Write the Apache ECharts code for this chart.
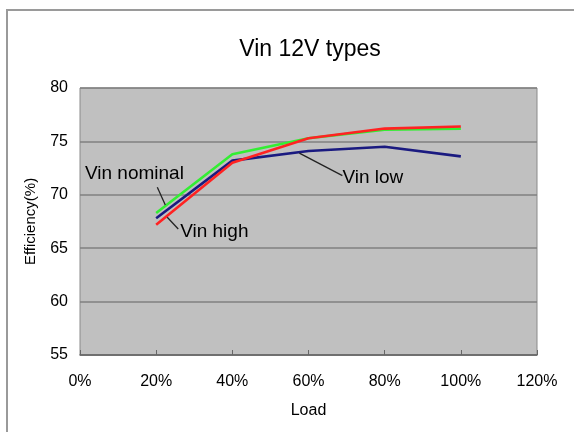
<!DOCTYPE html>
<html>
<head>
<meta charset="utf-8">
<script src="https://cdn.jsdelivr.net/npm/echarts@6/dist/echarts.min.js"></script>
<style>
  html, body { margin: 0; padding: 0; background: #fff; }
  #chart { width: 574px; height: 432px; }
</style>
</head>
<body>
<div id="chart"></div>
<script>
// load in %
const loads = [20, 40, 60, 80, 100];
const vinNominal = [68.3, 73.8, 75.3, 76.1, 76.2];
const vinLow = [67.8, 73.2, 74.1, 74.5, 73.6];
const vinHigh = [67.2, 73.0, 75.3, 76.2, 76.4];

const pairs = (ys) => loads.map((x, i) => [x, ys[i]]);

const chart = echarts.init(document.getElementById('chart'));

const option = {
  animation: false,
  backgroundColor: '#fff',
  title: {
    text: 'Vin 12V types',
    left: 305,
    textAlign: 'center',
    top: 33,
    textStyle: { fontFamily: 'Liberation Sans', fontSize: 23, fontWeight: 'normal', color: '#000' }
  },
  grid: {
    left: 80, right: 37, top: 88, bottom: 77,
    show: true,
    backgroundColor: '#c0c0c0',
    borderColor: '#8a8a8a',
    borderWidth: 1
  },
  xAxis: {
    type: 'value',
    min: 0, max: 120, interval: 20,
    name: 'Load',
    nameLocation: 'middle',
    nameGap: 48,
    nameTextStyle: { fontFamily: 'Liberation Sans', fontSize: 16, color: '#000' },
    axisLine: { show: true, lineStyle: { color: '#666', width: 1.5 } },
    axisTick: { show: true, inside: true, length: 5, lineStyle: { color: '#666' } },
    axisLabel: { formatter: '{value}%', margin: 19, fontFamily: 'Liberation Sans', fontSize: 16, color: '#000' },
    splitLine: { show: false }
  },
  yAxis: {
    type: 'value',
    min: 55, max: 80, interval: 5,
    name: 'Efficiency(%)',
    nameLocation: 'middle',
    nameGap: 42,
    nameTextStyle: { fontFamily: 'Liberation Sans', fontSize: 15, color: '#000' },
    axisLine: { show: false },
    axisTick: { show: false },
    axisLabel: { margin: 12, fontFamily: 'Liberation Sans', fontSize: 16, color: '#000' },
    splitLine: { show: true, lineStyle: { color: '#808080', width: 1.5 } }
  },
  series: [
    { name: 'Vin nominal', type: 'line', data: pairs(vinNominal), symbol: 'none',
      lineStyle: { color: '#33ee33', width: 2.6 }, z: 3 },
    { name: 'Vin low', type: 'line', data: pairs(vinLow), symbol: 'none',
      lineStyle: { color: '#1a1a80', width: 2.6 }, z: 4 },
    { name: 'Vin high', type: 'line', data: pairs(vinHigh), symbol: 'none',
      lineStyle: { color: '#ff2222', width: 2.6 }, z: 5 }
  ]
};
chart.setOption(option);

// annotations anchored in data space
const px = (x, y) => chart.convertToPixel({ gridIndex: 0 }, [x, y]);
const labelFont = { fontFamily: 'Liberation Sans', fontSize: 19, fill: '#000' };
const leader = (a, b) => ({
  type: 'line', z: 10,
  shape: { x1: a[0], y1: a[1], x2: b[0], y2: b[1] },
  style: { stroke: '#222', lineWidth: 1.3 }
});
const txt = (p, s) => ({
  type: 'text', z: 10, x: p[0], y: p[1],
  style: Object.assign({ text: s, textVerticalAlign: 'middle' }, labelFont)
});

chart.setOption({
  graphic: [
    { type: 'rect', z: -1, shape: { x: 7, y: 10, width: 600, height: 460 },
      style: { fill: 'none', stroke: '#9a9a9a', lineWidth: 2 } },
    txt(px(1.3, 72.0), 'Vin nominal'),
    leader(px(20.3, 70.7), px(22.4, 69.05)),
    txt(px(26.3, 66.5), 'Vin high'),
    leader(px(22.9, 67.9), px(25.8, 66.8)),
    txt(px(68.9, 71.6), 'Vin low'),
    leader(px(57.6, 73.9), px(68.9, 71.8))
  ]
});
</script>
</body>
</html>
